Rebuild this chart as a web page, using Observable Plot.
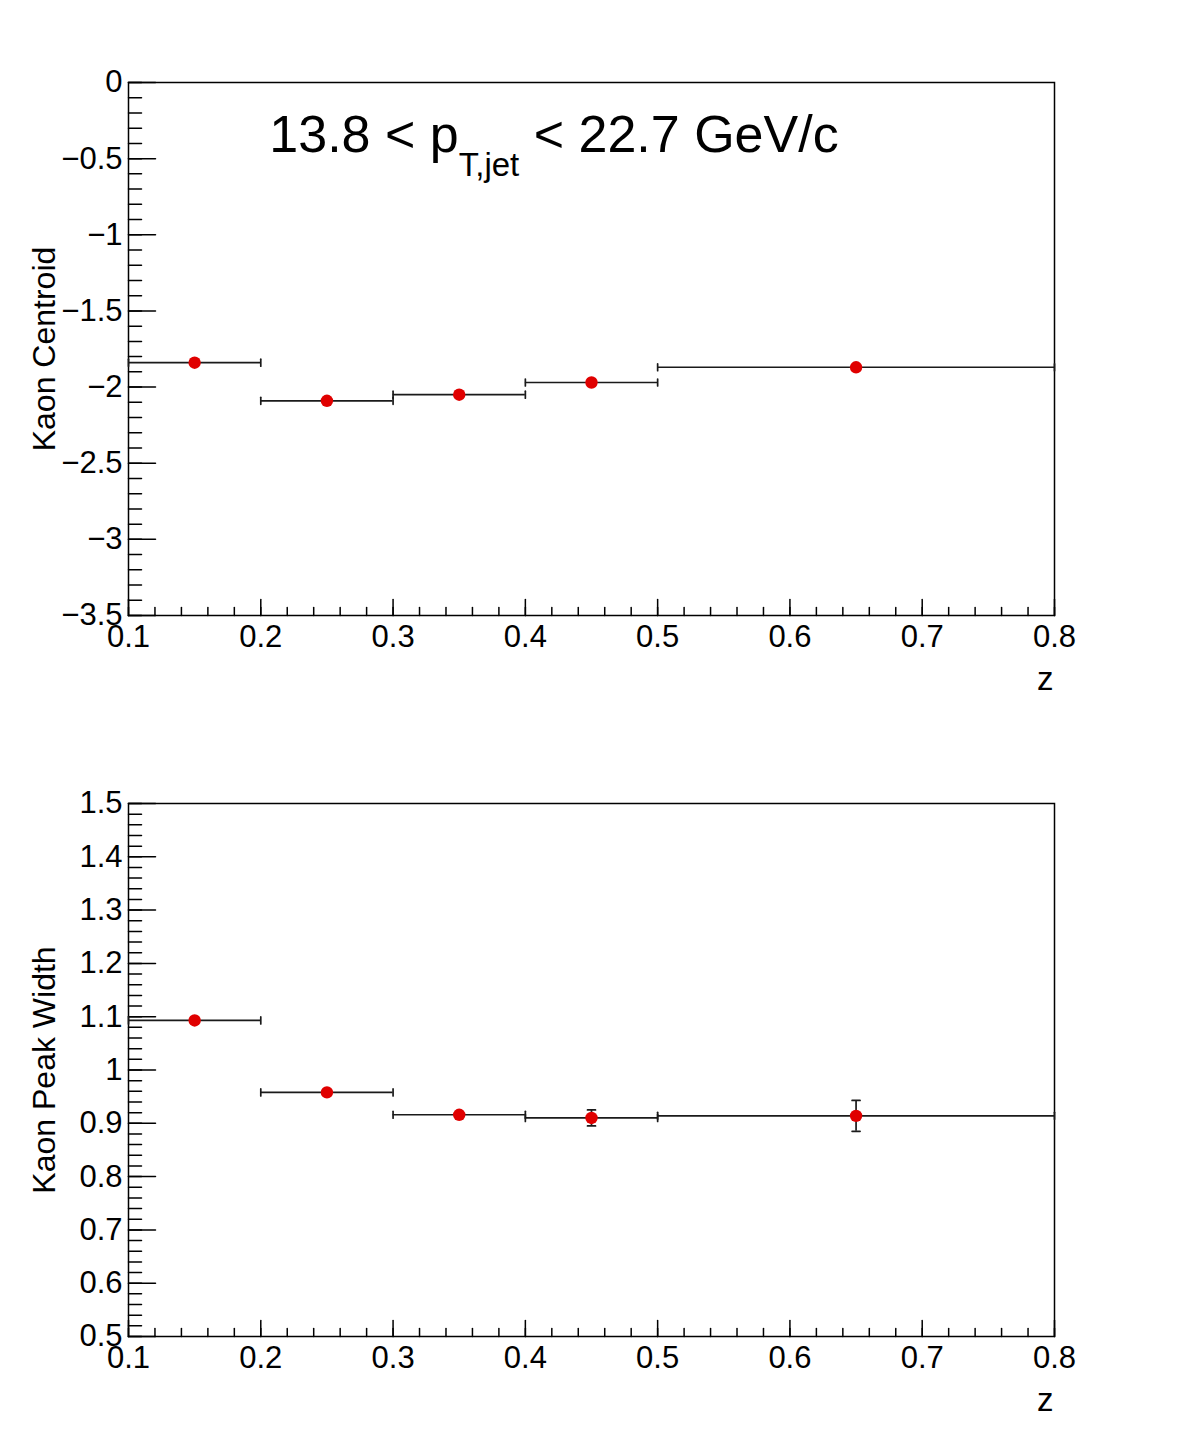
<!DOCTYPE html>
<html>
<head>
<meta charset="utf-8">
<script src="https://cdn.jsdelivr.net/npm/d3@7"></script>
<script src="https://cdn.jsdelivr.net/npm/@observablehq/plot@0.6"></script>
<style>
  body { margin: 0; background: #fff; }
  #chart { width: 1181px; height: 1441px; position: relative; background: #fff; }
  #chart svg { display: block; }
</style>
</head>
<body>
<div id="chart"></div>
<script>
// ---------------- data ----------------
const zLow     = [0.1, 0.2, 0.3, 0.4, 0.5];
const zHigh    = [0.2, 0.3, 0.4, 0.5, 0.8];
const zCenter  = [0.15, 0.25, 0.35, 0.45, 0.65];
const centroid    = [-1.84, -2.09, -2.05, -1.97, -1.87];
const centroidErr = [0.012, 0.012, 0.012, 0.013, 0.015];
const peakWidth    = [1.093, 0.958, 0.916, 0.910, 0.914];
const peakWidthErr = [0.004, 0.004, 0.004, 0.015, 0.029];

const xTicks = [0.1, 0.2, 0.3, 0.4, 0.5, 0.6, 0.7, 0.8];
const yTicksTop = [0, -0.5, -1, -1.5, -2, -2.5, -3, -3.5];
const yTicksBottom = [1.5, 1.4, 1.3, 1.2, 1.1, 1, 0.9, 0.8, 0.7, 0.6, 0.5];

const titleMain1 = "13.8 < p";
const titleSub = "T,jet";
const titleMain2 = " < 22.7 GeV/c";
const yLabelTop = "Kaon Centroid";
const yLabelBottom = "Kaon Peak Width";
const xLabel = "z";

// ---------------- helpers ----------------
const FONT = "'Liberation Sans', Arial, Helvetica, sans-serif";
const round = v => Math.round(v * 1e6) / 1e6;
const minor = (a, b, step) => d3.range(0, Math.round((b - a) / step) + 1).map(i => round(a + i * step));
const fmt = d => (d < 0 ? "\u2212" : "") + String(Math.abs(d));
const lineShape = { draw(context, l) { context.moveTo(0, 0); context.lineTo(0, -l); } };

function panel({ yDomain, yTicks, yMinorStep, values, errs, height, marginTop, label }) {
  const rows = zCenter.map((z, i) => ({ z, lo: zLow[i], hi: zHigh[i], v: values[i], e: errs[i] }));
  const hCaps = rows.flatMap(d => [{ x: d.lo, y: d.v }, { x: d.hi, y: d.v }]);
  const vCaps = rows.flatMap(d => [{ x: d.z, y: d.v - d.e }, { x: d.z, y: d.v + d.e }]);
  const xMinor = minor(0.1, 0.8, 0.02);
  const yMinor = minor(yDomain[0], yDomain[1], yMinorStep);
  const tickStyle = { stroke: "black", strokeWidth: 1.5, shape: lineShape, anchor: "start" };
  return Plot.plot({
    width: 1181,
    height,
    marginLeft: 128,
    marginRight: 127,
    marginTop,
    marginBottom: 105,
    style: { fontFamily: FONT, fontSize: "31px", background: "white", color: "black", overflow: "visible" },
    x: { domain: [0.1, 0.8] },
    y: { domain: yDomain },
    marks: [
      Plot.frame({ stroke: "black", strokeWidth: 1.5 }),
      Plot.vector(xMinor, { x: d => d, frameAnchor: "bottom", length: 8, rotate: 0, ...tickStyle }),
      Plot.vector(xTicks, { x: d => d, frameAnchor: "bottom", length: 16, rotate: 0, ...tickStyle }),
      Plot.vector(yMinor, { y: d => d, frameAnchor: "left", length: 13, rotate: 90, ...tickStyle }),
      Plot.vector(yTicks, { y: d => d, frameAnchor: "left", length: 27, rotate: 90, ...tickStyle }),
      Plot.axisX({ ticks: xTicks, tickSize: 0, tickPadding: 9, tickFormat: fmt, fontSize: 31, label: null }),
      Plot.axisY({ ticks: yTicks, tickSize: 0, tickPadding: 6, tickFormat: fmt, fontSize: 31, label: null }),
      Plot.ruleY(rows, { y: "v", x1: "lo", x2: "hi", stroke: "#1a1a1a", strokeWidth: 1.7 }),
      Plot.vector(hCaps, { x: "x", y: "y", length: 7, rotate: 0, anchor: "middle", shape: lineShape, stroke: "#1a1a1a", strokeWidth: 1.7 }),
      Plot.ruleX(rows, { x: "z", y1: d => d.v - d.e, y2: d => d.v + d.e, stroke: "#1a1a1a", strokeWidth: 1.7 }),
      Plot.vector(vCaps, { x: "x", y: "y", length: 8, rotate: 90, anchor: "middle", shape: lineShape, stroke: "#1a1a1a", strokeWidth: 1.7 }),
      Plot.dot(rows, { x: "z", y: "v", r: 6.2, fill: "#e00000", stroke: "none" }),
      Plot.text([label], { text: d => d, frameAnchor: "left", rotate: -90, dx: -84, fontSize: 32, textAnchor: "middle", lineAnchor: "middle" }),
      Plot.text([xLabel], { text: d => d, frameAnchor: "bottom-right", dx: -1, dy: 74, fontSize: 33, textAnchor: "end", lineAnchor: "bottom" })
    ]
  });
}

const topPanel = panel({
  yDomain: [-3.5, 0], yTicks: yTicksTop, yMinorStep: 0.1,
  values: centroid, errs: centroidErr, height: 720, marginTop: 82, label: yLabelTop
});
const bottomPanel = panel({
  yDomain: [0.5, 1.5], yTicks: yTicksBottom, yMinorStep: 0.02,
  values: peakWidth, errs: peakWidthErr, height: 721, marginTop: 83, label: yLabelBottom
});

// title with subscript
const titleText = d3.select(topPanel).append("text")
  .attr("x", 554).attr("y", 152)
  .attr("text-anchor", "middle")
  .attr("font-family", FONT)
  .attr("font-size", 52)
  .attr("fill", "black");
titleText.append("tspan").text(titleMain1);
titleText.append("tspan").attr("font-size", 33).attr("dy", 24).text(titleSub);
titleText.append("tspan").attr("font-size", 52).attr("dy", -24).text(titleMain2);

const chartDiv = document.getElementById("chart");
chartDiv.appendChild(topPanel);
chartDiv.appendChild(bottomPanel);
</script>
</body>
</html>
